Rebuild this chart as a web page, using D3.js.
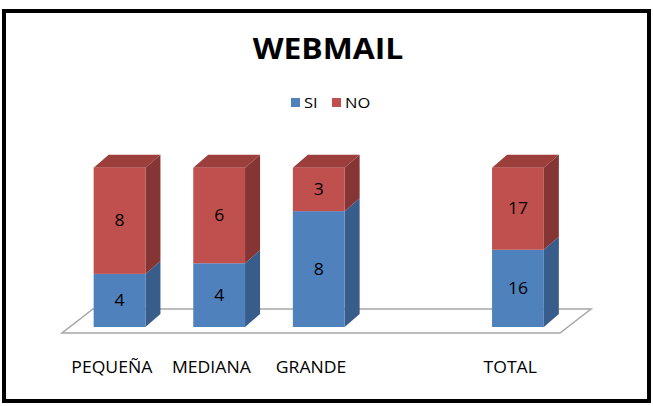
<!DOCTYPE html>
<html>
<head>
<meta charset="utf-8">
<script src="https://cdn.jsdelivr.net/npm/d3@7"></script>
<style>
  body { margin: 0; background: #fff; }
  text { font-family: 'Open Sans', sans-serif; fill: #000; }
</style>
</head>
<body>
<div class="canvas"></div>
<script>
const categories = ['PEQUEÑA', 'MEDIANA', 'GRANDE', '', 'TOTAL'];
const siValues = [4, 4, 8, null, 16];
const noValues = [8, 6, 3, null, 17];
const seriesNames = ['SI', 'NO'];

const colors = {
  SI: { front: '#4f81bd', side: '#385d8a', top: '#3f6ca3' },
  NO: { front: '#c0504d', side: '#853533', top: '#9b3e3c' }
};

// the original picture is a bit wider than tall, so text is stretched too
const stretch = 1.1;
const place = (x, y) => `translate(${x},${y}) scale(${stretch},1)`;

const svg = d3.select('.canvas')
  .append('svg')
  .attr('width', 653)
  .attr('height', 406);

// outer frame
svg.append('rect')
  .attr('x', 4).attr('y', 11)
  .attr('width', 645).attr('height', 390)
  .attr('fill', '#fff')
  .attr('stroke', '#000')
  .attr('stroke-width', 4);

svg.append('text')
  .attr('transform', place(328, 59))
  .attr('text-anchor', 'middle')
  .attr('font-size', 29)
  .attr('font-weight', 'bold')
  .text('WEBMAIL');

// legend
const legend = svg.append('g').attr('transform', 'translate(291, 98)');
const legendX = [0, 41];
seriesNames.forEach((s, i) => {
  legend.append('rect')
    .attr('x', legendX[i]).attr('y', 0)
    .attr('width', 9).attr('height', 9)
    .attr('fill', colors[s].front);
  legend.append('text')
    .attr('transform', place(legendX[i] + 13, 9.5))
    .attr('font-size', 15)
    .text(s);
});

// floor geometry (front edge + depth offset)
const floorY = 333;
const floorDepth = { dx: 31, dy: -24 };
const barShift = { dx: 7.75, dy: -6 };   // bar front sits a bit back on the floor
const barDepth = { dx: 15, dy: -13 };

const x = d3.scaleBand()
  .domain(categories.map((c, i) => i))
  .range([62, 560])
  .paddingInner(0.48)
  .paddingOuter(0.24);

const y = d3.scaleLinear()
  .domain([0, 1])
  .range([floorY + barShift.dy, 167.7]);

svg.append('path')
  .attr('d', `M62,${floorY} L560,${floorY} L${560 + floorDepth.dx},${floorY + floorDepth.dy} L${62 + floorDepth.dx},${floorY + floorDepth.dy} Z`)
  .attr('fill', '#fff')
  .attr('stroke', '#a6a6a6')
  .attr('stroke-width', 1.5);

const table = categories.map((c, i) => ({ i, SI: siValues[i] || 0, NO: noValues[i] || 0 }));
const stack = d3.stack()
  .keys(seriesNames)
  .offset(d3.stackOffsetExpand);
const layers = stack(table.filter(d => d.SI + d.NO > 0));

const bars = svg.append('g');
const bw = x.bandwidth();

layers.forEach(layer => {
  const key = layer.key;
  layer.forEach(seg => {
    const d = seg.data;
    const x0 = x(d.i) + barShift.dx;
    const x1 = x0 + bw;
    const yTop = y(seg[1]);
    const yBot = y(seg[0]);
    const g = bars.append('g');

    g.append('path')
      .attr('d', `M${x1},${yBot} L${x1 + barDepth.dx},${yBot + barDepth.dy} L${x1 + barDepth.dx},${yTop + barDepth.dy} L${x1},${yTop} Z`)
      .attr('fill', colors[key].side);

    if (seg[1] >= 1) {
      g.append('path')
        .attr('d', `M${x0},${yTop} L${x1},${yTop} L${x1 + barDepth.dx},${yTop + barDepth.dy} L${x0 + barDepth.dx},${yTop + barDepth.dy} Z`)
        .attr('fill', colors[key].top);
    }

    g.append('rect')
      .attr('x', x0).attr('y', yTop)
      .attr('width', bw).attr('height', yBot - yTop)
      .attr('fill', colors[key].front);

    g.append('text')
      .attr('transform', place(x0 + bw / 2, (yTop + yBot) / 2))
      .attr('dy', '0.35em')
      .attr('text-anchor', 'middle')
      .attr('font-size', 16)
      .text(d[key]);
  });
});

// category labels along the front edge of the floor
svg.append('g')
  .selectAll('text')
  .data(categories)
  .join('text')
  .attr('transform', (d, i) => place(x(i) + bw / 2, 373))
  .attr('text-anchor', 'middle')
  .attr('font-size', 16)
  .text(d => d);
</script>
</body>
</html>
